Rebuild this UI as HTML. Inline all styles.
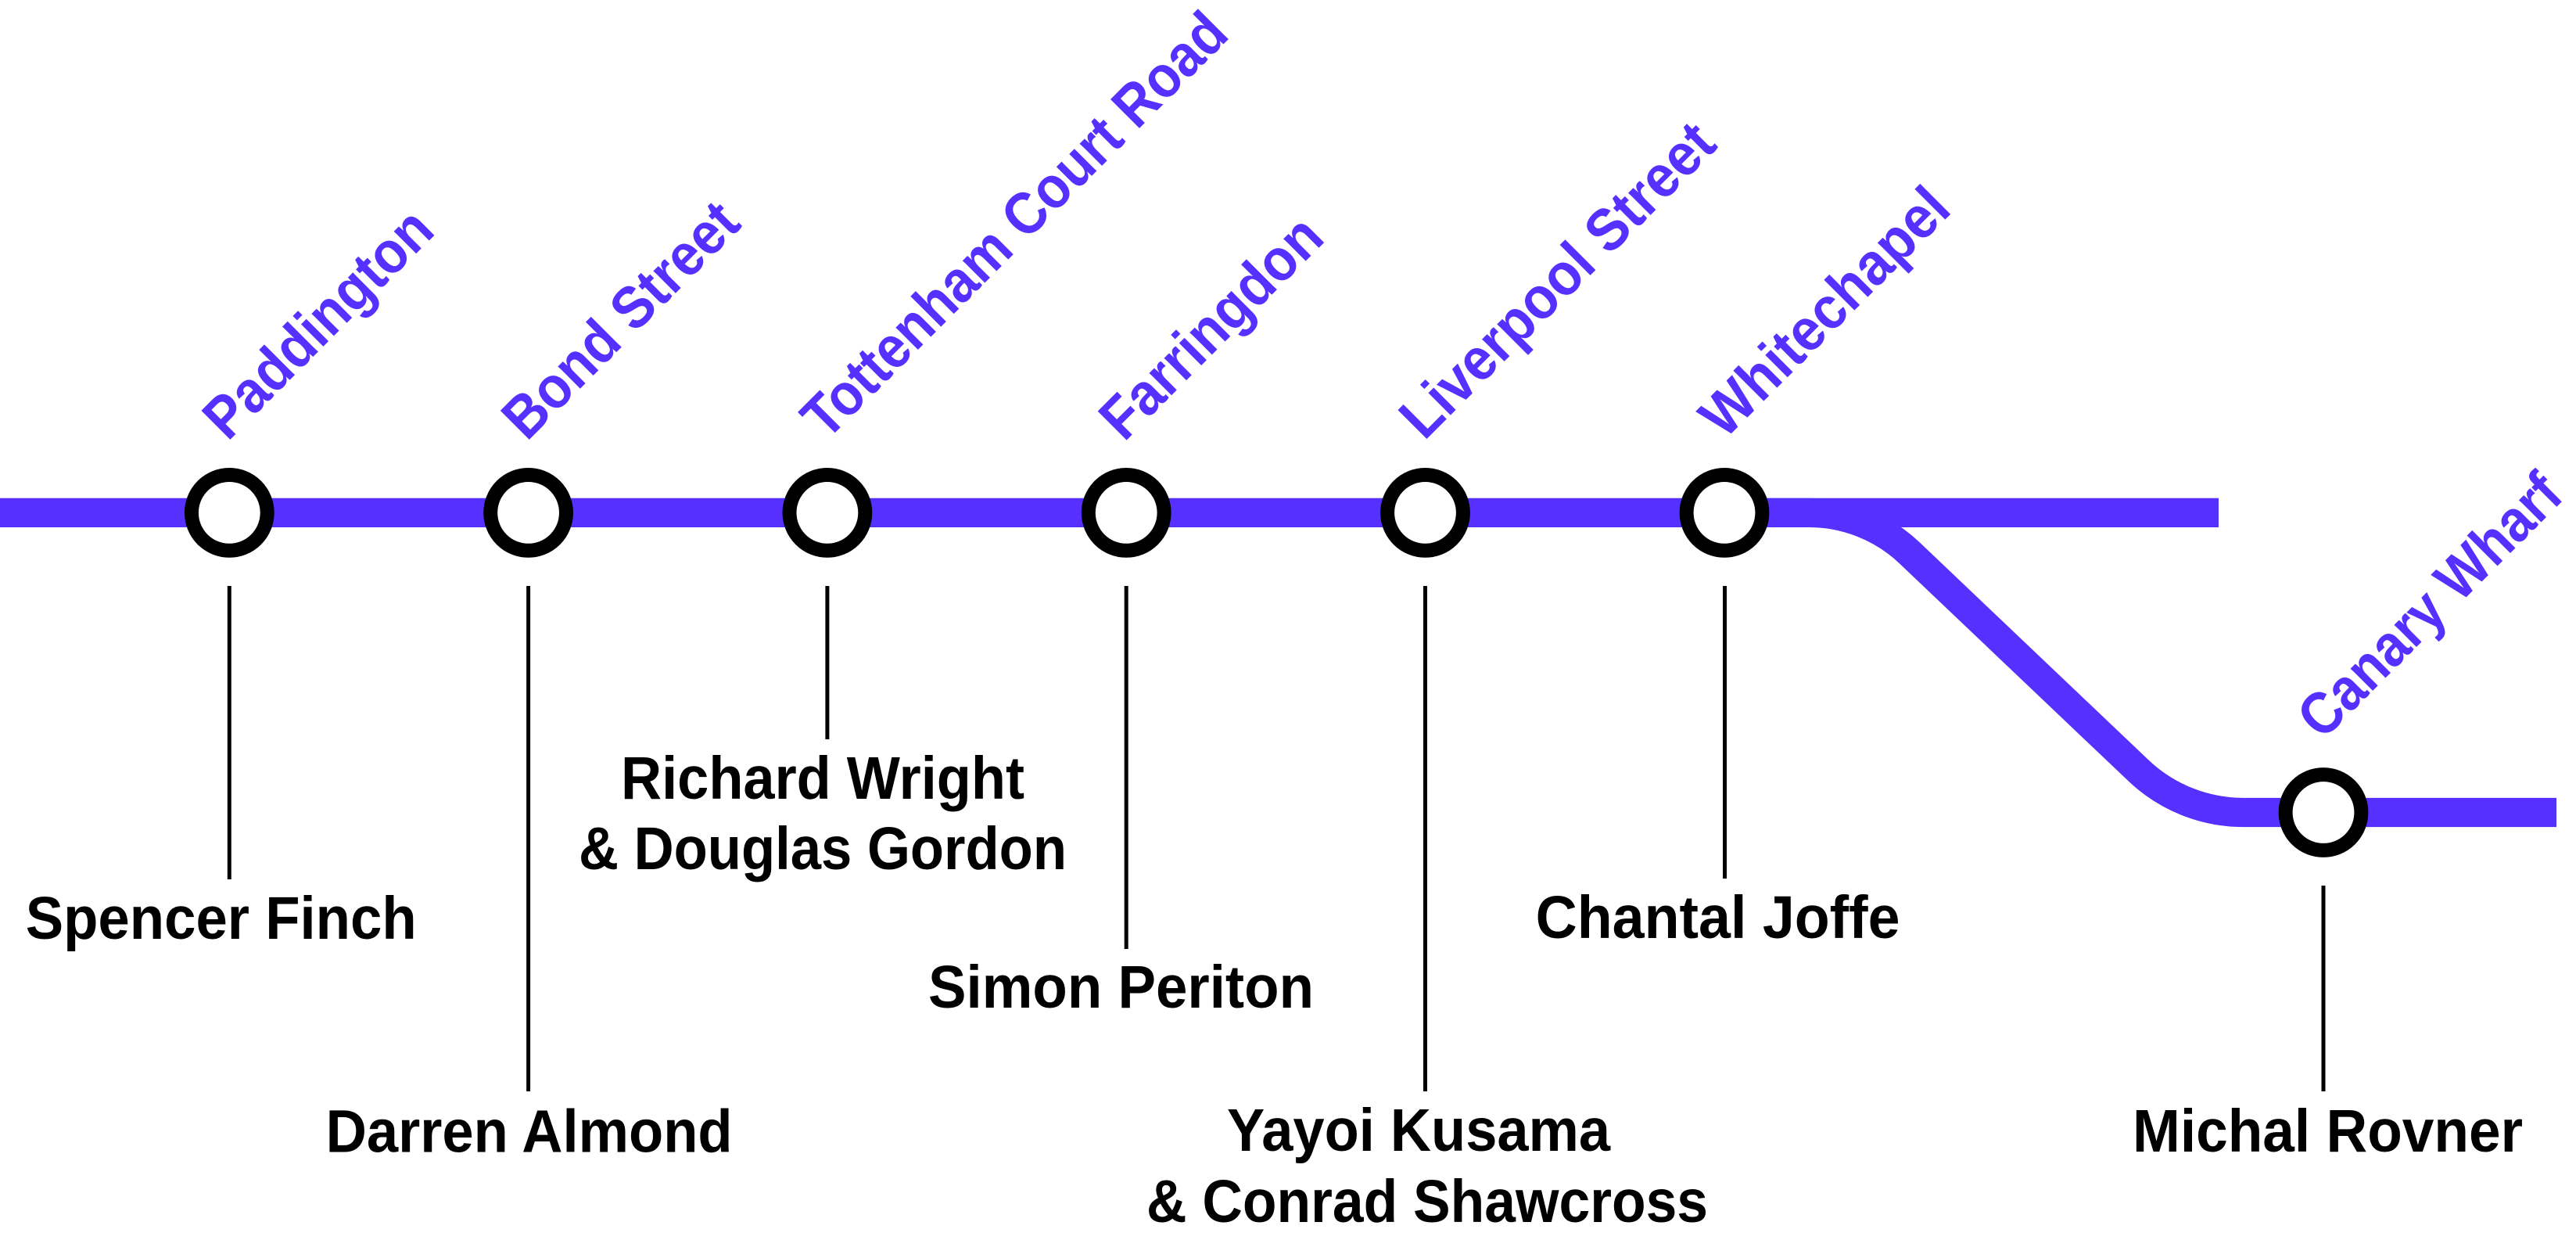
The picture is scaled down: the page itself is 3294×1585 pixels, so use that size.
<!DOCTYPE html>
<html>
<head>
<meta charset="utf-8">
<style>
html,body{margin:0;padding:0;background:#fff;}
body{width:3294px;height:1585px;overflow:hidden;}
svg{display:block;}
.st{font-family:"Liberation Sans",Arial,sans-serif;font-weight:bold;font-size:76px;fill:#5530ff;}
.ar{font-family:"Liberation Sans",Arial,sans-serif;font-weight:bold;font-size:77px;fill:#000;}
</style>
</head>
<body>
<svg width="3294" height="1585" viewBox="0 0 3294 1585" xmlns="http://www.w3.org/2000/svg">
  <rect x="0" y="0" width="3294" height="1585" fill="#fff"/>
  <!-- main line -->
  <rect x="0" y="636.7" width="2837" height="37.3" fill="#5530ff"/>
  <!-- branch -->
  <path d="M 2205 655.35 H 2313 A 187 187 0 0 1 2441.7 706.7 L 2734.5 984.9 A 195 195 0 0 0 2868.7 1038.5 H 3269" fill="none" stroke="#5530ff" stroke-width="37.3" stroke-linecap="butt"/>

  <!-- connectors -->
  <g stroke="#000" stroke-width="5">
    <line x1="293.3" y1="749" x2="293.3" y2="1124"/>
    <line x1="675.6" y1="749" x2="675.6" y2="1395"/>
    <line x1="1057.9" y1="749" x2="1057.9" y2="945"/>
    <line x1="1440.2" y1="749" x2="1440.2" y2="1213"/>
    <line x1="1822.5" y1="749" x2="1822.5" y2="1395"/>
    <line x1="2205.5" y1="749" x2="2205.5" y2="1123"/>
    <line x1="2971" y1="1132" x2="2971" y2="1395"/>
  </g>

  <!-- stations -->
  <g fill="#fff" stroke="#000" stroke-width="18">
    <circle cx="293.3" cy="655.35" r="48.4"/>
    <circle cx="675.6" cy="655.35" r="48.4"/>
    <circle cx="1057.9" cy="655.35" r="48.4"/>
    <circle cx="1440.2" cy="655.35" r="48.4"/>
    <circle cx="1822.5" cy="655.35" r="48.4"/>
    <circle cx="2205" cy="655.35" r="48.4"/>
    <circle cx="2971" cy="1038.5" r="48.4"/>
  </g>

  <!-- station labels -->
  <g class="st">
    <text transform="translate(293.3,563) rotate(-45)" x="-3" y="0" textLength="378" lengthAdjust="spacingAndGlyphs">Paddington</text>
    <text transform="translate(675.6,563) rotate(-45)" x="-3" y="0" textLength="391" lengthAdjust="spacingAndGlyphs">Bond Street</text>
    <text transform="translate(1057.9,563) rotate(-45)" x="-2" y="0" textLength="732" lengthAdjust="spacingAndGlyphs">Tottenham Court Road</text>
    <text transform="translate(1440.2,563) rotate(-45)" x="-4" y="0" textLength="366" lengthAdjust="spacingAndGlyphs">Farringdon</text>
    <text transform="translate(1822.5,563) rotate(-45)" x="-2" y="0" textLength="533" lengthAdjust="spacingAndGlyphs">Liverpool Street</text>
    <text transform="translate(2205,563) rotate(-45)" x="0" y="0" textLength="414" lengthAdjust="spacingAndGlyphs">Whitechapel</text>
    <text transform="translate(2971,946) rotate(-45)" x="-2" y="0" textLength="440" lengthAdjust="spacingAndGlyphs">Canary Wharf</text>
  </g>

  <!-- artist labels -->
  <g class="ar">
    <text x="32.7" y="1200" textLength="500" lengthAdjust="spacingAndGlyphs">Spencer Finch</text>
    <text x="416.6" y="1472.5" textLength="520" lengthAdjust="spacingAndGlyphs">Darren Almond</text>
    <text x="794" y="1021" textLength="516" lengthAdjust="spacingAndGlyphs">Richard Wright</text>
    <text x="740" y="1111" textLength="624" lengthAdjust="spacingAndGlyphs">&amp; Douglas Gordon</text>
    <text x="1187" y="1288" textLength="493" lengthAdjust="spacingAndGlyphs">Simon Periton</text>
    <text x="1963.6" y="1199" textLength="466" lengthAdjust="spacingAndGlyphs">Chantal Joffe</text>
    <text x="1569" y="1471" textLength="490" lengthAdjust="spacingAndGlyphs">Yayoi Kusama</text>
    <text x="1466" y="1562" textLength="718" lengthAdjust="spacingAndGlyphs">&amp; Conrad Shawcross</text>
    <text x="2727" y="1472" textLength="499" lengthAdjust="spacingAndGlyphs">Michal Rovner</text>
  </g>
</svg>
</body>
</html>
